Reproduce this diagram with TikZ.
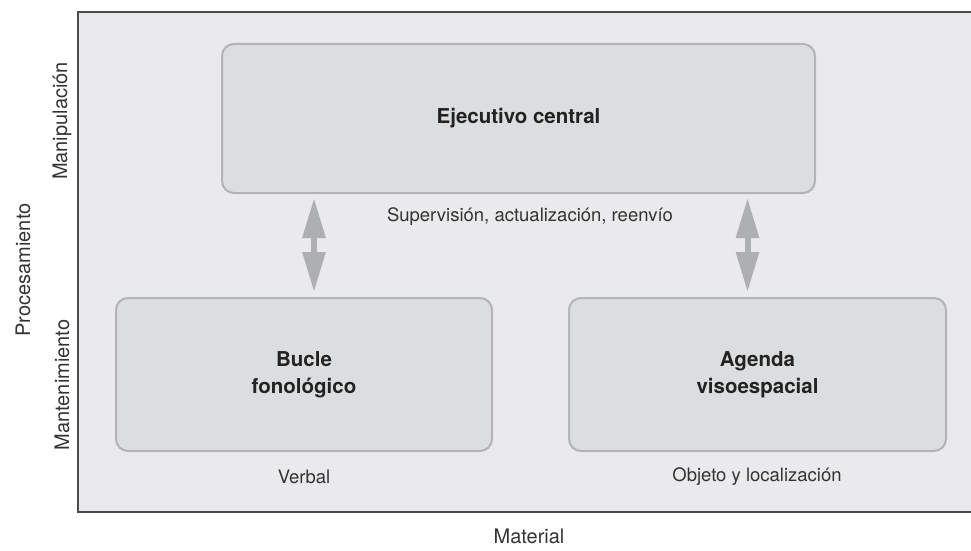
\documentclass[tikz,border=0pt]{standalone}
\usepackage{fontspec}
\setmainfont{TeX Gyre Heros}
\usetikzlibrary{arrows.meta,calc}
\definecolor{bgfill}{HTML}{EAEAEC}
\definecolor{boxfill}{HTML}{DCDDDF}
\definecolor{boxline}{HTML}{B3B4B6}
\definecolor{arrowcol}{HTML}{AEAFB1}
\definecolor{frameline}{HTML}{4A4A4A}
\definecolor{txt}{HTML}{222222}
\definecolor{txtl}{HTML}{333333}
\tikzset{
  x=1pt, y=-1pt,
  box/.style={draw=boxline, line width=2pt, fill=boxfill, rounded corners=12pt, anchor=north west, align=center, font=\bfseries\fontsize{20.5}{27}\selectfont, text=txt, inner sep=0pt},
  lbl/.style={font=\fontsize{18.5}{22}\selectfont, text=txtl, inner sep=0pt},
  axlbl/.style={font=\fontsize{20}{24}\selectfont, text=txtl, inner sep=0pt},
  dblarrow/.style={arrowcol, line width=6pt, {Triangle[width=22pt,length=40pt]}-{Triangle[width=22pt,length=40pt]}}
}
\begin{document}
\begin{tikzpicture}
\useasboundingbox (0,0) rectangle (971,551);
\fill[bgfill] (78,12) rectangle (971,512);
\draw[frameline, line width=1.5pt] (971,12) -- (78,12) -- (78,512) -- (971,512);
\node[box, minimum width=593pt, minimum height=149pt] (top) at (221,43) {Ejecutivo central};
\node[box, minimum width=376pt, minimum height=153pt] (bl) at (115,297) {Bucle\\fonológico};
\node[box, minimum width=377pt, minimum height=153pt] (br) at (568,297) {Agenda\\visoespacial};
\draw[dblarrow] ([xshift=10pt,yshift=-4pt]top.south -| bl.north) -- ([xshift=10pt,yshift=5pt]bl.north);
\draw[dblarrow] ([xshift=-10pt,yshift=-4pt]top.south -| br.north) -- ([xshift=-10pt,yshift=5pt]br.north);
\node[lbl] (sup) at (530,217) {Supervisión, actualización, reenvío};
\node[lbl] (verb) at (304,477) {Verbal};
\node[lbl] (obj) at (757,477) {Objeto y localización};
\node[axlbl] (mat) at (529,536) {Material};
\node[axlbl, rotate=90] (proc) at (23,270) {Procesamiento};
\node[axlbl, rotate=90] (manip) at (62,121) {Manipulación};
\node[axlbl, rotate=90] (mant) at (62,385) {Mantenimiento};
\end{tikzpicture}
\end{document}
